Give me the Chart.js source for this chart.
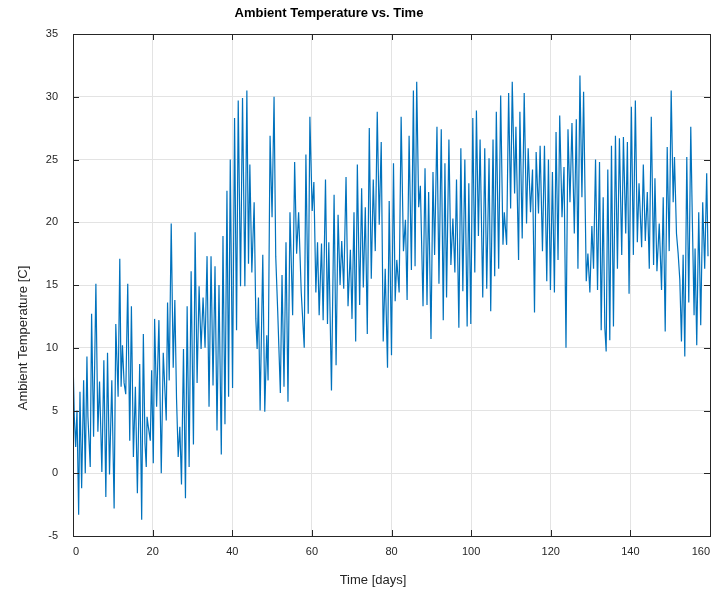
<!DOCTYPE html>
<html>
<head>
<meta charset="utf-8">
<script src="https://cdn.jsdelivr.net/npm/chart.js@4.4.1/dist/chart.umd.min.js"></script>
<style>
  html, body { margin: 0; padding: 0; background: #fff; }
</style>
</head>
<body>
<canvas id="chart" width="714" height="592"></canvas>
<script>
// Values (time in days, temperature in C)
const days = [
  0.0, 0.08, 0.33, 0.67, 1.0, 1.42, 1.75, 2.17, 2.67, 3.08,
  3.5, 3.75, 4.33, 4.67, 5.17, 5.75, 6.25, 6.67, 7.25, 7.75,
  8.25, 8.67, 9.17, 9.75, 10.33, 10.75, 11.33, 11.75, 12.08, 12.42,
  12.83, 13.25, 13.75, 14.25, 14.67, 15.17, 15.67, 16.17, 16.75, 17.25,
  17.67, 18.08, 18.4, 18.6, 18.92, 19.42, 19.75, 20.17, 20.5, 21.0,
  21.58, 22.17, 22.67, 23.42, 23.75, 24.17, 24.67, 25.17, 25.58, 26.0,
  26.42, 26.83, 27.25, 27.75, 28.25, 28.67, 29.17, 29.67, 30.25, 30.67,
  31.17, 31.67, 32.17, 32.67, 33.17, 33.67, 34.17, 34.67, 35.17, 35.67,
  36.17, 36.67, 37.25, 37.67, 38.17, 38.67, 39.08, 39.5, 40.08, 40.58,
  41.08, 41.5, 42.08, 42.58, 43.17, 43.67, 44.08, 44.42, 44.92, 45.5,
  45.92, 46.25, 46.58, 47.0, 47.67, 48.17, 48.67, 49.0, 49.5, 50.0,
  50.5, 50.92, 51.42, 52.08, 52.5, 53.0, 53.5, 54.0, 54.5, 55.17,
  55.67, 56.17, 56.67, 57.33, 58.08, 58.5, 59.08, 59.5, 60.08, 60.5,
  61.0, 61.42, 61.83, 62.42, 62.83, 63.42, 63.92, 64.25, 64.92, 65.58,
  66.08, 66.58, 67.08, 67.5, 68.0, 68.58, 69.08, 69.67, 70.08, 70.58,
  71.0, 71.42, 72.0, 72.5, 72.92, 73.42, 73.92, 74.42, 74.92, 75.42,
  75.92, 76.42, 76.92, 77.42, 77.92, 78.42, 79.0, 79.42, 80.0, 80.5,
  80.92, 81.33, 81.92, 82.42, 83.0, 83.5, 83.92, 84.42, 85.0, 85.5,
  85.92, 86.33, 86.83, 87.25, 87.92, 88.42, 88.92, 89.33, 89.92, 90.42,
  90.83, 91.42, 91.92, 92.5, 93.0, 93.42, 93.83, 94.42, 94.92, 95.42,
  95.92, 96.33, 96.92, 97.42, 97.92, 98.42, 99.0, 99.42, 99.92, 100.42,
  100.92, 101.33, 101.83, 102.25, 102.92, 103.42, 103.92, 104.5, 104.92, 105.5,
  105.92, 106.33, 106.92, 107.42, 108.0, 108.33, 108.92, 109.42, 109.92, 110.33,
  110.92, 111.25, 111.92, 112.25, 112.83, 113.33, 113.92, 114.33, 114.92, 115.42,
  115.92, 116.33, 116.92, 117.33, 117.92, 118.42, 119.0, 119.42, 119.92, 120.42,
  120.92, 121.33, 121.83, 122.25, 122.83, 123.33, 123.83, 124.33, 124.83, 125.33,
  125.92, 126.42, 126.83, 127.33, 127.83, 128.25, 128.92, 129.33, 129.83, 130.33,
  130.75, 131.25, 131.75, 132.25, 132.67, 133.17, 133.58, 133.92, 134.33, 134.83,
  135.25, 135.75, 136.25, 136.75, 137.25, 137.83, 138.25, 138.83, 139.25, 139.67,
  140.25, 140.75, 141.25, 141.75, 142.17, 142.83, 143.25, 143.75, 144.25, 144.75,
  145.25, 145.83, 146.17, 146.67, 147.25, 147.83, 148.25, 148.75, 149.25, 149.75,
  150.25, 150.75, 151.08, 151.58, 152.0, 152.42, 152.83, 153.25, 153.67, 154.17,
  154.67, 155.17, 155.58, 156.0, 156.25, 156.67, 157.17, 157.67, 158.17, 158.67,
  159.17, 159.5
];

const temps = [
  5.0, 8.0, 4.5, 2.1, 5.0, -3.3, 6.5, -1.2, 7.4, 0.0,
  9.3, 4.5, 0.5, 12.7, 2.9, 15.1, 3.3, 7.3, 0.1, 9.0,
  -1.9, 9.6, -0.1, 7.4, -2.8, 11.9, 6.1, 17.1, 6.9, 10.2,
  7.2, 6.3, 15.1, 2.6, 13.3, 1.3, 6.9, -1.6, 8.7, -3.7,
  11.1, 2.4, 0.5, 4.5, 3.7, 2.6, 8.2, 0.8, 12.3, 5.3,
  12.2, 0.0, 9.6, 4.2, 13.6, 7.4, 19.9, 8.4, 13.8, 6.0,
  1.3, 3.7, -0.9, 9.9, -2.0, 13.3, 0.5, 16.1, 2.3, 19.2,
  7.2, 14.9, 9.9, 14.0, 10.0, 17.3, 5.3, 17.3, 7.0, 16.5,
  3.4, 15.0, 1.5, 18.9, 3.9, 22.5, 6.1, 25.0, 6.8, 28.3,
  11.4, 29.7, 14.9, 29.9, 14.9, 30.5, 16.7, 24.6, 16.0, 21.6,
  12.3, 9.9, 14.0, 5.0, 17.4, 4.9, 11.0, 7.4, 26.9, 20.4,
  30.0, 17.3, 12.9, 6.4, 15.8, 6.9, 18.4, 5.7, 20.8, 12.6,
  24.8, 17.5, 20.8, 14.4, 10.0, 25.4, 12.7, 28.4, 20.9, 23.2,
  14.4, 18.4, 12.6, 18.3, 12.2, 23.4, 11.9, 18.4, 6.6, 22.2,
  8.6, 20.6, 15.0, 18.5, 14.7, 23.6, 13.3, 17.8, 12.3, 20.8,
  10.5, 24.6, 13.4, 22.7, 14.8, 21.2, 11.1, 27.5, 15.5, 23.4,
  17.7, 28.8, 19.8, 26.4, 10.5, 16.3, 8.4, 21.7, 9.4, 24.7,
  13.7, 17.0, 14.4, 28.4, 17.7, 20.2, 13.8, 26.9, 16.2, 30.5,
  16.5, 31.2, 21.2, 22.9, 13.3, 24.3, 13.4, 22.4, 10.7, 24.0,
  17.4, 27.6, 15.1, 27.4, 12.2, 24.7, 14.0, 26.6, 16.6, 20.3,
  16.0, 23.4, 11.6, 25.9, 14.5, 25.0, 11.7, 23.1, 11.9, 28.3,
  16.0, 28.9, 18.9, 26.6, 14.0, 25.9, 14.7, 25.1, 12.9, 26.6,
  15.7, 28.8, 16.3, 30.1, 18.2, 20.8, 18.2, 30.3, 21.1, 31.2,
  22.3, 27.6, 17.0, 28.8, 18.7, 30.3, 19.9, 25.9, 20.8, 24.2,
  12.8, 25.6, 20.7, 26.1, 17.7, 26.1, 15.3, 25.0, 14.6, 24.0,
  14.4, 27.2, 17.0, 28.5, 20.4, 24.4, 10.0, 27.4, 21.6, 27.9,
  19.1, 28.2, 16.3, 31.7, 22.0, 30.4, 15.3, 17.5, 14.4, 19.7,
  16.3, 25.0, 14.6, 24.8, 11.4, 22.0, 11.6, 9.7, 24.2, 10.6,
  26.1, 11.7, 26.9, 16.3, 26.7, 17.4, 26.8, 19.1, 26.4, 14.3,
  29.2, 17.4, 29.7, 18.4, 23.1, 18.0, 24.6, 18.5, 22.4, 16.3,
  28.4, 16.6, 23.5, 16.1, 19.9, 14.6, 22.0, 11.3, 26.0, 17.7,
  30.5, 21.6, 25.2, 19.1, 17.5, 15.4, 10.5, 17.4, 9.3, 25.2,
  13.6, 27.6, 19.9, 12.6, 17.9, 10.2, 20.8, 11.8, 21.6, 16.3,
  23.9, 17.3
];

const xMin = 0, xMax = 160, xStep = 20;
const yMin = -5, yMax = 35, yStep = 5;

const chartTitle = 'Ambient Temperature vs. Time';
const xTitle = 'Time [days]';
const yTitle = 'Ambient Temperature [C]';

const FONT = '"Liberation Sans", Arial, Helvetica, sans-serif';
const AXIS_COLOR = '#262626';

// MATLAB-like frame: box, inward ticks on all four sides, and the titles
const matlabFrame = {
  id: 'matlabFrame',
  afterDraw(chart) {
    const { ctx, chartArea: a, scales } = chart;
    const tick = 6;
    ctx.save();
    ctx.strokeStyle = AXIS_COLOR;
    ctx.lineWidth = 1;
    ctx.beginPath();
    scales.x.ticks.forEach((t) => {
      const px = Math.round(scales.x.getPixelForValue(t.value)) + 0.5;
      ctx.moveTo(px, a.bottom); ctx.lineTo(px, a.bottom - tick);
      ctx.moveTo(px, a.top); ctx.lineTo(px, a.top + tick);
    });
    scales.y.ticks.forEach((t) => {
      const py = Math.round(scales.y.getPixelForValue(t.value)) + 0.5;
      ctx.moveTo(a.left, py); ctx.lineTo(a.left + tick, py);
      ctx.moveTo(a.right, py); ctx.lineTo(a.right - tick, py);
    });
    ctx.stroke();
    ctx.strokeRect(Math.round(a.left) + 0.5, Math.round(a.top) + 0.5,
      Math.round(a.right - a.left), Math.round(a.bottom - a.top));

    ctx.textAlign = 'center';
    ctx.textBaseline = 'middle';
    ctx.fillStyle = '#000';
    ctx.font = 'bold 13px ' + FONT;
    ctx.fillText(chartTitle, 329, 13);

    ctx.fillStyle = AXIS_COLOR;
    ctx.font = '13px ' + FONT;
    ctx.fillText(xTitle, 373, 580);

    ctx.translate(23, 338);
    ctx.rotate(-Math.PI / 2);
    ctx.fillText(yTitle, 0, 0);
    ctx.restore();
  },
};

new Chart(document.getElementById('chart'), {
  type: 'line',
  data: {
    datasets: [
      {
        label: 'Ambient Temperature',
        data: days.map((d, i) => ({ x: d, y: temps[i] })),
        borderColor: '#0072BD',
        borderWidth: 1.2,
        pointRadius: 0,
        tension: 0,
        fill: false,
      },
    ],
  },
  options: {
    responsive: false,
    animation: false,
    devicePixelRatio: 1,
    layout: { padding: { top: 34, left: 0, right: 0, bottom: 0 } },
    plugins: {
      legend: { display: false },
      tooltip: { enabled: false },
    },
    scales: {
      x: {
        type: 'linear',
        min: xMin,
        max: xMax,
        ticks: {
          stepSize: xStep,
          align: 'inner',
          padding: 9,
          color: AXIS_COLOR,
          font: { family: FONT, size: 11 },
        },
        grid: { color: '#e3e3e3', drawTicks: false },
        border: { display: false },
        afterFit(scale) {
          scale.height = 56;
          scale.paddingLeft = 0;
          scale.paddingRight = 4;
        },
      },
      y: {
        min: yMin,
        max: yMax,
        ticks: {
          stepSize: yStep,
          padding: 15,
          color: AXIS_COLOR,
          font: { family: FONT, size: 11 },
        },
        grid: { color: '#e3e3e3', drawTicks: false },
        border: { display: false },
        afterFit(scale) {
          scale.width = 73;
        },
      },
    },
  },
  plugins: [matlabFrame],
});
</script>
</body>
</html>
